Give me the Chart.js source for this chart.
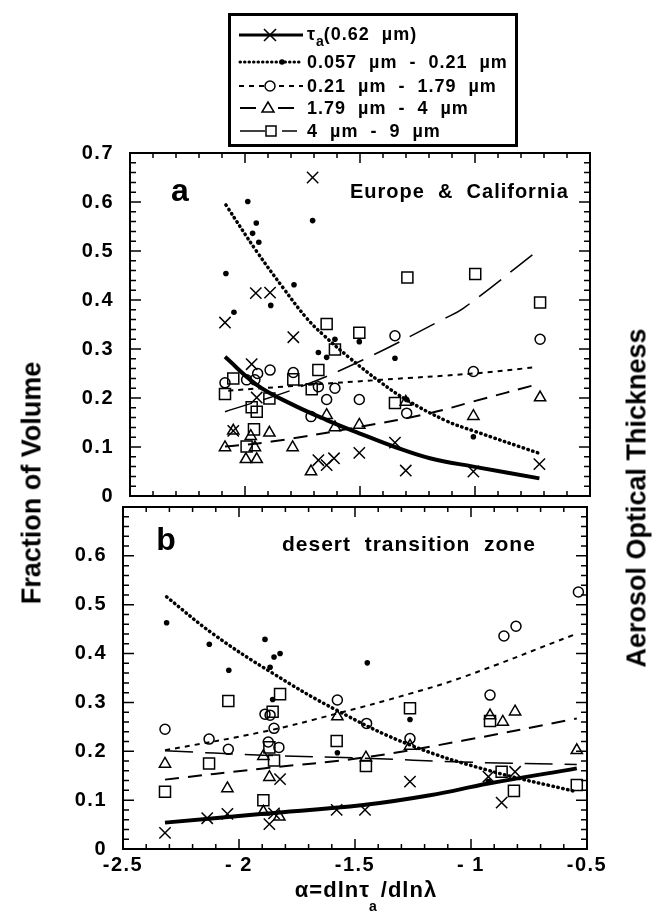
<!DOCTYPE html>
<html>
<head>
<meta charset="utf-8">
<script src="https://cdn.jsdelivr.net/npm/chart.js@4.4.1/dist/chart.umd.min.js"></script>
<style>
  body { margin: 0; background: #fff; width: 652px; height: 916px; position: relative; overflow: hidden;
         font-family: "Liberation Sans", Arial, sans-serif; font-weight: bold; color: #000; }
  canvas { position: absolute; left: 0; top: 0; }
  .legend-box { position: absolute; left: 228px; top: 13px; width: 290px; height: 134px;
                border: 3px solid #000; box-sizing: border-box; }
  .legend-row { position: absolute; left: 307px; font-size: 18px; line-height: 20px; white-space: pre;
                letter-spacing: 1px; }
  .legend-row sub { font-size: 14px; vertical-align: -6px; letter-spacing: 0; }
  #legendSvg { position: absolute; left: 0; top: 0; }
  .ytitle { position: absolute; font-size: 27px; line-height: 27px; white-space: nowrap;
            transform: translate(-50%, -50%) rotate(-90deg); }
  #xtitle { position: absolute; left: 366px; top: 891px; transform: translate(-50%, -50%);
            font-size: 22px; line-height: 24px; white-space: pre; letter-spacing: 1px; }
  #xtitle .sub { font-size: 14px; position: relative; top: 14px; margin-left: -1px; margin-right: 3px; }
</style>
</head>
<body>
<canvas id="chartA" width="652" height="916"></canvas>
<canvas id="chartB" width="652" height="916"></canvas>

<div class="legend-box"></div>
<svg id="legendSvg" width="652" height="150">
  <g stroke="#000" fill="none">
    <line x1="239" y1="35" x2="303" y2="35" stroke-width="3"/>
    <path d="M264 29 L276 41 M276 29 L264 41" stroke-width="1.6"/>
    <line x1="240" y1="62" x2="302" y2="62" stroke-width="3" stroke-dasharray="0.5 4" stroke-linecap="round"/>
    <circle cx="282" cy="62" r="2.8" fill="#000" stroke="none"/>
    <line x1="239" y1="86" x2="303" y2="86" stroke-width="2" stroke-dasharray="5 5"/>
    <circle cx="270" cy="86" r="5" fill="#fff" stroke-width="1.5"/>
    <line x1="240" y1="108" x2="256" y2="108" stroke-width="2"/>
    <line x1="278" y1="108" x2="294" y2="108" stroke-width="2"/>
    <path d="M268 102 L274 112 L262 112 Z" stroke-width="1.5"/>
    <line x1="240" y1="131" x2="265" y2="131" stroke-width="1.5"/>
    <rect x="266" y="126" width="10" height="10" stroke-width="1.5"/>
    <line x1="282" y1="131" x2="297" y2="131" stroke-width="1.5"/>
  </g>
</svg>
<div class="legend-row" style="top:24px">τ<sub>a</sub>(0.62  µm)</div>
<div class="legend-row" style="top:52px">0.057  µm  -  0.21  µm</div>
<div class="legend-row" style="top:76px">0.21  µm  -  1.79  µm</div>
<div class="legend-row" style="top:98px">1.79  µm  -  4  µm</div>
<div class="legend-row" style="top:121px">4  µm  -  9  µm</div>

<div class="ytitle" style="left:32px; top:483px">Fraction of Volume</div>
<div class="ytitle" style="left:637px; top:498px">Aerosol Optical Thickness</div>
<div id="xtitle">α=dlnτ<span class="sub">a</span>/dlnλ</div>

<script>
// axis ticks
const xTicks = [-2.5, -2, -1.5, -1, -0.5];
const xTickLabels = ['-2.5', '- 2', '-1.5', '- 1', '-0.5'];
const yTicksA = [0, 0.1, 0.2, 0.3, 0.4, 0.5, 0.6, 0.7];
const yTickLabelsA = ['0', '0.1', '0.2', '0.3', '0.4', '0.5', '0.6', '0.7'];
const yTicksB = [0, 0.1, 0.2, 0.3, 0.4, 0.5, 0.6];
const yTickLabelsB = ['0', '0.1', '0.2', '0.3', '0.4', '0.5', '0.6'];

// panel a: Europe & California  [alpha, value]
const tauA = [[-1.706,0.650],[-1.953,0.414],[-1.891,0.415],[-2.087,0.354],[-1.790,0.324],[-1.971,0.269],
  [-1.949,0.201],[-2.051,0.133],[-1.348,0.109],[-1.503,0.088],[-1.681,0.073],[-1.645,0.063],[-1.613,0.077],
  [-1.301,0.052],[-1.007,0.050],[-0.720,0.065]];
const fineA = [[-1.988,0.601],[-1.706,0.562],[-1.951,0.557],[-1.967,0.536],[-1.940,0.518],[-2.083,0.454],
  [-1.787,0.431],[-1.888,0.389],[-2.048,0.375],[-1.503,0.315],[-1.609,0.320],[-1.681,0.293],[-1.645,0.283],
  [-1.348,0.281],[-1.297,0.197],[-1.007,0.121]];
const midA = [[-1.348,0.327],[-0.717,0.320],[-1.945,0.250],[-1.891,0.257],[-2.087,0.231],[-1.993,0.237],
  [-1.957,0.237],[-1.790,0.252],[-1.681,0.223],[-1.609,0.220],[-1.645,0.197],[-1.503,0.197],[-1.007,0.254],
  [-1.297,0.169],[-1.713,0.162]];
const largeA = [[-1.301,0.192],[-0.717,0.201],[-1.007,0.163],[-1.645,0.165],[-1.609,0.140],[-1.503,0.145],
  [-2.051,0.133],[-1.975,0.122],[-1.894,0.129],[-2.087,0.099],[-1.957,0.099],[-1.793,0.099],[-1.996,0.075],
  [-1.949,0.075],[-1.713,0.050]];
const giantA = [[-1.294,0.446],[-0.999,0.453],[-0.717,0.395],[-1.645,0.351],[-1.503,0.333],[-1.609,0.299],
  [-2.051,0.240],[-2.087,0.208],[-1.790,0.238],[-1.681,0.257],[-1.710,0.218],[-1.894,0.199],[-1.971,0.181],
  [-1.949,0.172],[-1.348,0.190],[-1.961,0.136],[-1.993,0.101]];

const tauFitA = [[-2.087,0.284],[-1.949,0.227],[-1.804,0.189],[-1.645,0.155],[-1.503,0.128],[-1.348,0.100],
  [-1.196,0.077],[-1.007,0.060],[-0.720,0.036]];
const fineFitA = [[-2.083,0.594],[-1.949,0.499],[-1.833,0.424],[-1.732,0.363],[-1.660,0.329],[-1.543,0.281],
  [-1.413,0.233],[-1.297,0.196],[-1.123,0.153],[-1.007,0.133],[-0.720,0.087]];
const midFitA = [[-2.073,0.215],[-1.750,0.226],[-1.413,0.237],[-1.007,0.250],[-0.732,0.263]];
const largeFitA = [[-2.087,0.101],[-1.884,0.111],[-1.503,0.141],[-1.196,0.169],[-1.007,0.193],[-0.720,0.229]];
const giantFitA = [[-2.087,0.172],[-1.775,0.220],[-1.486,0.278],[-1.138,0.361],[-1.051,0.383],[-0.732,0.499]];

// panel b: desert transition zone
const tauB = [[-2.319,0.033],[-2.137,0.063],[-2.050,0.072],[-1.869,0.051],[-1.849,0.073],[-1.823,0.143],
  [-1.579,0.080],[-1.457,0.080],[-1.263,0.138],[-0.925,0.148],[-0.810,0.158],[-0.868,0.095]];
const fineB = [[-2.312,0.463],[-2.128,0.419],[-1.888,0.429],[-2.044,0.366],[-1.849,0.393],[-1.823,0.400],
  [-1.866,0.372],[-1.447,0.381],[-1.855,0.306],[-1.263,0.265],[-1.576,0.197],[-0.925,0.138]];
const midB = [[-0.537,0.526],[-0.858,0.436],[-0.806,0.456],[-1.576,0.305],[-0.918,0.315],[-2.319,0.245],
  [-1.888,0.276],[-1.866,0.274],[-1.849,0.247],[-1.450,0.257],[-1.263,0.226],[-2.129,0.225],[-2.046,0.204],
  [-1.874,0.219],[-1.828,0.208]];
const largeB = [[-1.576,0.271],[-1.263,0.211],[-0.918,0.273],[-0.863,0.260],[-0.810,0.281],[-1.895,0.190],
  [-1.453,0.187],[-2.319,0.174],[-0.544,0.202],[-2.050,0.124],[-1.869,0.147],[-1.895,0.076],[-1.826,0.066]];
const giantB = [[-2.046,0.303],[-1.823,0.317],[-1.263,0.288],[-1.855,0.281],[-1.579,0.221],[-0.918,0.262],
  [-1.869,0.208],[-1.849,0.181],[-1.453,0.170],[-2.129,0.175],[-2.319,0.117],[-0.868,0.158],[-0.815,0.119],
  [-0.544,0.131],[-1.895,0.100]];

const tauFitB = [[-2.319,0.054],[-1.895,0.072],[-1.464,0.090],[-1.177,0.110],[-0.925,0.134],[-0.544,0.165]];
const fineFitB = [[-2.312,0.516],[-2.111,0.440],[-1.866,0.363],[-1.579,0.284],[-1.263,0.213],[-0.918,0.160],[-0.544,0.117]];
const midFitB = [[-2.319,0.202],[-1.895,0.240],[-1.579,0.277],[-1.263,0.318],[-1.033,0.352],[-0.559,0.438]];
const largeFitB = [[-2.319,0.142],[-1.895,0.165],[-1.464,0.187],[-1.033,0.222],[-0.544,0.267]];
const giantFitB = [[-2.319,0.201],[-1.895,0.192],[-1.464,0.186],[-1.033,0.178],[-0.544,0.173]];

const FONT = 'Liberation Sans, Arial, sans-serif';
const toXY = arr => arr.map(p => ({ x: p[0], y: p[1] }));

// wider tracking like the old Helvetica labels
const tracking = {
  id: 'tracking',
  beforeDraw(chart) { chart.ctx.letterSpacing = '1.5px'; }
};

// frame with inward major/minor ticks on all four sides
const frameTicks = {
  id: 'frameTicks',
  afterDatasetsDraw(chart) {
    const { ctx, chartArea: a, scales: { x, y } } = chart;
    ctx.save();
    ctx.strokeStyle = '#000';
    ctx.lineWidth = 2;
    ctx.strokeRect(a.left, a.top, a.right - a.left, a.bottom - a.top);
    ctx.lineWidth = 1.5;
    ctx.beginPath();
    for (let i = 0; i <= 20; i++) {
      const px = x.getPixelForValue(-2.5 + i * 0.1);
      const len = i % 5 === 0 ? 10 : 5;
      ctx.moveTo(px, a.bottom); ctx.lineTo(px, a.bottom - len);
      ctx.moveTo(px, a.top); ctx.lineTo(px, a.top + len);
    }
    for (let i = 0; i <= 35; i++) {
      const py = y.getPixelForValue(i * 0.02);
      const len = i % 5 === 0 ? 11 : 6;
      ctx.moveTo(a.left, py); ctx.lineTo(a.left + len, py);
      ctx.moveTo(a.right, py); ctx.lineTo(a.right - len, py);
    }
    ctx.stroke();
    ctx.restore();
  }
};

// panel letter and region name
const panelText = {
  id: 'panelText',
  afterDraw(chart, args, opts) {
    const { ctx, chartArea: a } = chart;
    ctx.save();
    ctx.fillStyle = '#000';
    ctx.textBaseline = 'middle';
    ctx.letterSpacing = '0px';
    ctx.font = 'bold 32px ' + FONT;
    ctx.textAlign = 'center';
    ctx.fillText(opts.letter, a.left + opts.lx, a.top + opts.ly);
    ctx.letterSpacing = '1px';
    ctx.font = 'bold ' + opts.size + 'px ' + FONT;
    ctx.textAlign = 'left';
    ctx.fillText(opts.title, a.left + opts.tx, a.top + opts.ty);
    ctx.restore();
  }
};

function pointSet(data, style, radius, filled) {
  return {
    data: toXY(data), showLine: false, pointStyle: style, pointRadius: radius,
    pointBorderWidth: filled ? 0 : 1.5, pointBorderColor: '#000',
    pointBackgroundColor: filled ? '#000' : 'rgba(0,0,0,0)'
  };
}
function fitLine(data, width, dash, cap) {
  return {
    data: toXY(data), showLine: true, pointRadius: 0, borderColor: '#000',
    borderWidth: width, borderDash: dash, borderCapStyle: cap || 'butt', tension: 0.4, fill: false
  };
}

function makeDatasets(p) {
  return [
    fitLine(p.tauFit, 4, []),
    fitLine(p.fineFit, 3.5, [0.5, 4.5], 'round'),
    fitLine(p.midFit, 2, [5, 5]),
    fitLine(p.largeFit, 2, [14, 9]),
    fitLine(p.giantFit, 1.5, [28, 12]),
    pointSet(p.tau, 'crossRot', 8, false),
    pointSet(p.fine, 'circle', 2.8, true),
    pointSet(p.mid, 'circle', 5, false),
    pointSet(p.large, 'triangle', 6.5, false),
    pointSet(p.giant, 'rect', 7.8, false)
  ];
}

function makeChart(id, p) {
  return new Chart(document.getElementById(id), {
    type: 'scatter',
    data: { datasets: makeDatasets(p) },
    options: {
      responsive: false,
      animation: false,
      layout: { padding: p.padding },
      plugins: { legend: { display: false }, tooltip: { enabled: false }, panelText: p.text },
      scales: {
        x: {
          type: 'linear', min: -2.5, max: -0.5,
          afterFit: s => { s.height = p.xHeight; },
          afterBuildTicks: s => { s.ticks = xTicks.map(v => ({ value: v })); },
          grid: { display: false, drawTicks: false }, border: { display: false },
          ticks: {
            display: p.showX, padding: 4, color: '#000',
            font: { family: FONT, size: 20, weight: 'bold' },
            maxRotation: 0, autoSkip: false,
            callback: (v, i) => xTickLabels[i]
          }
        },
        y: {
          type: 'linear', min: 0, max: 0.7,
          afterFit: s => { s.width = p.yWidth; },
          afterBuildTicks: s => { s.ticks = p.yTicks.map(v => ({ value: v })); },
          grid: { display: false, drawTicks: false }, border: { display: false },
          ticks: {
            padding: 16, color: '#000',
            font: { family: FONT, size: 20, weight: 'bold' },
            callback: (v, i) => p.yLabels[i]
          }
        }
      }
    },
    plugins: [tracking, frameTicks, panelText]
  });
}

makeChart('chartA', {
  tau: tauA, fine: fineA, mid: midA, large: largeA, giant: giantA,
  tauFit: tauFitA, fineFit: fineFitA, midFit: midFitA, largeFit: largeFitA, giantFit: giantFitA,
  yTicks: yTicksA, yLabels: yTickLabelsA, showX: false,
  padding: { left: 0, right: 62, top: 153, bottom: 410 }, xHeight: 10, yWidth: 130,
  text: { letter: 'a', lx: 50, ly: 39, title: 'Europe  &  California', tx: 220, ty: 39, size: 20 }
});

makeChart('chartB', {
  tau: tauB, fine: fineB, mid: midB, large: largeB, giant: giantB,
  tauFit: tauFitB, fineFit: fineFitB, midFit: midFitB, largeFit: largeFitB, giantFit: giantFitB,
  yTicks: yTicksB, yLabels: yTickLabelsB, showX: true,
  padding: { left: 0, right: 65, top: 507, bottom: 27 }, xHeight: 40, yWidth: 123,
  text: { letter: 'b', lx: 43, ly: 34, title: 'desert  transition  zone', tx: 159, ty: 38, size: 21 }
});
</script>
</body>
</html>
